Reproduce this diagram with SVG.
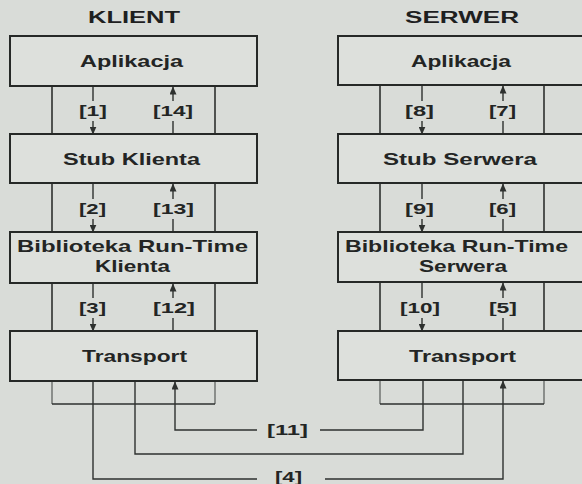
<svg xmlns="http://www.w3.org/2000/svg" width="582" height="484" viewBox="0 0 582 484">
<style>
.bg{fill:#d9dcd8}
.box{fill:#dde0dc;stroke:#262927;stroke-width:2}
.fr{fill:none;stroke:#2e312f;stroke-width:1.6}
.frl{fill:none;stroke:#6a6d6b;stroke-width:1.4}
.ln{fill:none;stroke:#2e312f;stroke-width:1.4}
.ar{fill:none;stroke:#2e312f;stroke-width:1.4;marker-end:url(#ah)}
.h{font-family:"Liberation Sans",Arial,sans-serif;font-weight:bold;font-size:16px;fill:#1e201f}
.t{font-family:"Liberation Sans",Arial,sans-serif;font-weight:bold;font-size:17px;fill:#232524}
.l{font-family:"Liberation Sans",Arial,sans-serif;font-weight:bold;font-size:15px;fill:#232524}
</style>
<defs>
<marker id="ah" viewBox="0 0 8 7" refX="7.5" refY="3.5" markerWidth="8" markerHeight="7" markerUnits="userSpaceOnUse" orient="auto">
<path d="M0,0 L8,3.5 L0,7 Z" fill="#2e312f"/>
</marker>
</defs>
<rect class="bg" x="0" y="0" width="582" height="484"/>

<text class="h" x="88" y="23" textLength="92" lengthAdjust="spacingAndGlyphs">KLIENT</text>
<text class="h" x="405" y="23" textLength="114" lengthAdjust="spacingAndGlyphs">SERWER</text>

<g id="connectors">
<!-- client frame -->
<path class="fr" d="M52,86 V134 M215,86 V134 M52,183 V232 M215,183 V232 M52,283 V331 M215,283 V331"/>
<!-- server frame -->
<path class="fr" d="M380,85 V134 M544,85 V134 M380,183 V232 M544,183 V232 M380,282 V331 M544,282 V331"/>
<!-- client arrows -->
<path class="ln" d="M93,86 V101 M173,121 V134 M93,183 V199 M173,219 V232 M93,283 V298 M173,318 V331"/>
<path class="ar" d="M93,121 V134"/><path class="ar" d="M173,101 V87"/>
<path class="ar" d="M93,219 V232"/><path class="ar" d="M173,199 V184"/>
<path class="ar" d="M93,318 V331"/><path class="ar" d="M173,298 V284"/>
<!-- server arrows -->
<path class="ln" d="M422,85 V101 M503,121 V134 M422,183 V199 M503,219 V232 M422,282 V298 M503,318 V331"/>
<path class="ar" d="M422,121 V134"/><path class="ar" d="M503,101 V86"/>
<path class="ar" d="M422,219 V232"/><path class="ar" d="M503,199 V184"/>
<path class="ar" d="M422,318 V331"/><path class="ar" d="M503,298 V283"/>
<!-- bottom brackets -->
<path class="frl" d="M52,381 V404 M215,381 V404 M380,380 V404 M544,380 V404"/>
<path class="fr" d="M52,404 H215 M380,404 H544"/>
<!-- network links -->
<path class="ln" d="M93,381 V479 H257"/>
<path class="ar" d="M325,479 H503 V381"/>
<path class="ln" d="M135,381 V454 H463 V380"/>
<path class="ln" d="M423,380 V430 H320"/>
<path class="ar" d="M257,430 H175 V382"/>
</g>

<g id="k-app"><rect class="box" x="10" y="36" width="247" height="50"/>
<text class="t" x="80" y="67" textLength="103" lengthAdjust="spacingAndGlyphs">Aplikacja</text></g>
<g id="k-stub"><rect class="box" x="10" y="134" width="247" height="49"/>
<text class="t" x="63" y="165" textLength="137" lengthAdjust="spacingAndGlyphs">Stub Klienta</text></g>
<g id="k-lib"><rect class="box" x="10" y="232" width="247" height="51"/>
<text class="t" x="17" y="252" textLength="231" lengthAdjust="spacingAndGlyphs">Biblioteka Run-Time</text>
<text class="t" x="95" y="272" textLength="75" lengthAdjust="spacingAndGlyphs">Klienta</text></g>
<g id="k-tr"><rect class="box" x="10" y="331" width="247" height="50"/>
<text class="t" x="82" y="362" textLength="105" lengthAdjust="spacingAndGlyphs">Transport</text></g>

<g id="s-app"><rect class="box" x="338" y="36" width="254" height="49"/>
<text class="t" x="411" y="67" textLength="100" lengthAdjust="spacingAndGlyphs">Aplikacja</text></g>
<g id="s-stub"><rect class="box" x="338" y="134" width="254" height="49"/>
<text class="t" x="383" y="165" textLength="154" lengthAdjust="spacingAndGlyphs">Stub Serwera</text></g>
<g id="s-lib"><rect class="box" x="338" y="232" width="254" height="50"/>
<text class="t" x="345" y="252" textLength="223" lengthAdjust="spacingAndGlyphs">Biblioteka Run-Time</text>
<text class="t" x="419" y="272" textLength="88" lengthAdjust="spacingAndGlyphs">Serwera</text></g>
<g id="s-tr"><rect class="box" x="338" y="331" width="254" height="49"/>
<text class="t" x="409" y="362" textLength="107" lengthAdjust="spacingAndGlyphs">Transport</text></g>

<g id="labels">
<text class="l" x="79" y="116" textLength="28" lengthAdjust="spacingAndGlyphs">[1]</text>
<text class="l" x="153" y="116" textLength="40" lengthAdjust="spacingAndGlyphs">[14]</text>
<text class="l" x="79" y="214" textLength="27" lengthAdjust="spacingAndGlyphs">[2]</text>
<text class="l" x="153" y="214" textLength="41" lengthAdjust="spacingAndGlyphs">[13]</text>
<text class="l" x="79" y="313" textLength="27" lengthAdjust="spacingAndGlyphs">[3]</text>
<text class="l" x="153" y="313" textLength="42" lengthAdjust="spacingAndGlyphs">[12]</text>
<text class="l" x="405" y="116" textLength="29" lengthAdjust="spacingAndGlyphs">[8]</text>
<text class="l" x="489" y="116" textLength="27" lengthAdjust="spacingAndGlyphs">[7]</text>
<text class="l" x="405" y="214" textLength="29" lengthAdjust="spacingAndGlyphs">[9]</text>
<text class="l" x="489" y="214" textLength="27" lengthAdjust="spacingAndGlyphs">[6]</text>
<text class="l" x="400" y="313" textLength="40" lengthAdjust="spacingAndGlyphs">[10]</text>
<text class="l" x="489" y="313" textLength="28" lengthAdjust="spacingAndGlyphs">[5]</text>
<text class="l" x="267" y="435" textLength="41" lengthAdjust="spacingAndGlyphs">[11]</text>
<text class="l" x="275" y="482" textLength="27" lengthAdjust="spacingAndGlyphs">[4]</text>
</g>
</svg>
